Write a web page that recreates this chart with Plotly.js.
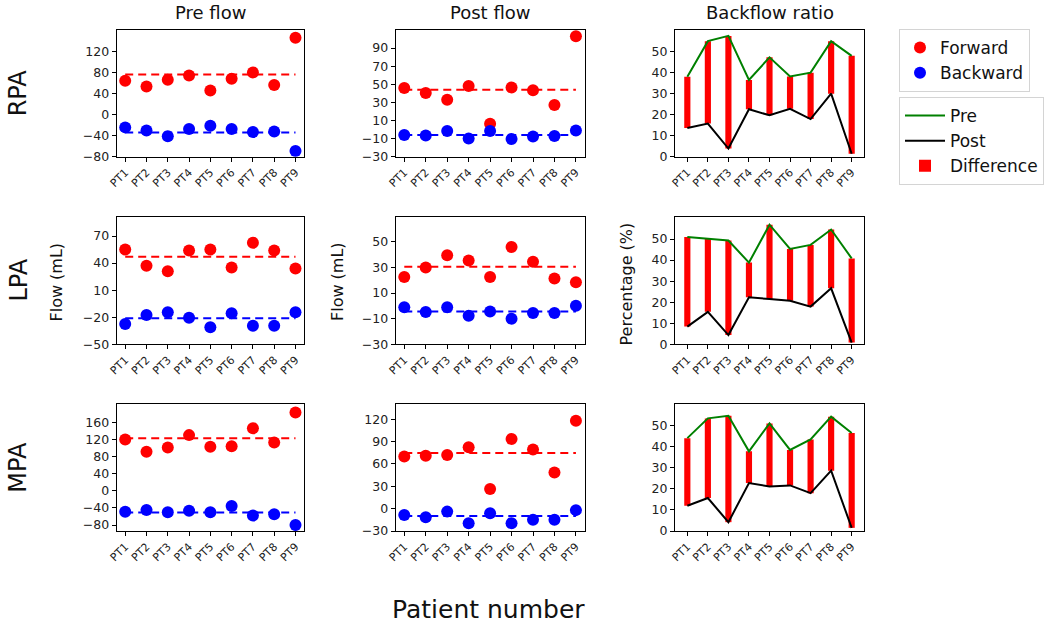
<!DOCTYPE html>
<html>
<head>
<meta charset="utf-8">
<script src="https://cdn.plot.ly/plotly-3.0.1.min.js"></script>
<style>
  html, body { margin: 0; padding: 0; background: #fff; }
  #chart { width: 1052px; height: 626px; }
</style>
</head>
<body>
<div id="chart"></div>
<script>
// --- datos ---
const patients = ['PT1', 'PT2', 'PT3', 'PT4', 'PT5', 'PT6', 'PT7', 'PT8', 'PT9'];
const vessels = ['RPA', 'LPA', 'MPA'];

// flujo pre (mL)
const rpaPreFwd = [65, 54, 67, 75, 46.5, 69, 81, 57, 147];
const rpaPreBwd = [-24, -30, -41, -27, -21, -27, -33, -32, -69];
const lpaPreFwd = [55, 37, 31, 54, 55, 35, 62.5, 54, 34];
const lpaPreBwd = [-27.5, -17.5, -14.5, -20.5, -31, -15.5, -29.5, -29.5, -14.5];
const mpaPreFwd = [120, 91, 101, 130, 103, 104, 146, 113, 183];
const mpaPreBwd = [-49, -45, -50, -46.5, -50, -35.5, -58, -55, -80];

// flujo post (mL)
const rpaPostFwd = [46, 40.5, 33, 48, 6.3, 46.5, 43.5, 27, 103];
const rpaPostBwd = [-6, -6.5, -1.7, -10, -1.7, -10.5, -7.6, -7, -1];
const lpaPostFwd = [22.5, 30, 39.5, 35.5, 22.5, 46, 34.5, 21.5, 18.5];
const lpaPostBwd = [-1, -4.8, -1, -7.7, -4.3, -10, -5.6, -5.6, 0.2];
const mpaPostFwd = [70, 71, 72, 82.5, 26.5, 93.5, 79.5, 48.5, 118];
const mpaPostBwd = [-8.5, -11.5, -4, -19.5, -6.3, -19.5, -15, -15, -2];

// niveles de las líneas punteadas (RPA, LPA, MPA)
const preFwdMean = [77, 47, 122.5];
const preBwdMean = [-34, -21, -50.5];
const postFwdMean = [44, 30.5, 74.5];
const postBwdMean = [-6, -4.3, -10];

// porcentaje de reflujo (%)
const rpaRatioPre = [38, 55, 57.5, 36.5, 47.3, 38.2, 40, 55, 48];
const rpaRatioPost = [13.7, 15.8, 3.9, 22.6, 19.7, 22.8, 17.9, 30, 1.4];
const lpaRatioPre = [51, 50.2, 49.3, 38.8, 56.8, 45.3, 47.2, 54.5, 40.8];
const lpaRatioPost = [8.4, 15.4, 4.4, 22.3, 21.5, 20.7, 17.9, 26.6, 0.8];
const mpaRatioPre = [44.2, 53.6, 54.8, 37.9, 51.2, 38.6, 43.6, 54.4, 46.6];
const mpaRatioPost = [12, 15.7, 4.2, 22.8, 21.2, 21.7, 18, 28.7, 1.5];

const preFwd = [rpaPreFwd, lpaPreFwd, mpaPreFwd];
const preBwd = [rpaPreBwd, lpaPreBwd, mpaPreBwd];
const postFwd = [rpaPostFwd, lpaPostFwd, mpaPostFwd];
const postBwd = [rpaPostBwd, lpaPostBwd, mpaPostBwd];
const ratioPre = [rpaRatioPre, lpaRatioPre, mpaRatioPre];
const ratioPost = [rpaRatioPost, lpaRatioPost, mpaRatioPost];

// --- geometría (px sobre 1052x626) ---
const W = 1052, H = 626;
const colPx = [[116.7, 304], [395.7, 584.5], [675, 864]];
const rowPx = [[30, 156.7], [216.7, 344.3], [404.3, 531]];

// rangos y ticks de Y por fila/columna
const yRanges = [
  [[-80, 162], [-30, 110], [0, 60.3]],
  [[-50, 91.4], [-30, 69.7], [0, 60.6]],
  [[-94, 202], [-30, 140], [0, 60.3]],
];
const yTickSpec = [
  [[-80, 120, 40], [-30, 90, 20], [0, 50, 10]],
  [[-50, 70, 30], [-30, 50, 20], [0, 50, 10]],
  [[-80, 160, 40], [-30, 120, 30], [0, 50, 10]],
];

const RED = '#ff0000', BLUE = '#0000ff', GREEN = '#008000';
const FONT = 'DejaVu Sans, Arial, sans-serif';

function ticks(desde, hasta, paso) {
  const out = [];
  for (let v = desde; v <= hasta + 1e-9; v += paso) out.push(v);
  return out;
}

function axisId(r, c) {
  const n = r * 3 + c + 1;
  return n === 1 ? '' : String(n);
}

const traces = [];
const layout = {
  width: W,
  height: H,
  margin: { l: 0, r: 0, t: 0, b: 0 },
  paper_bgcolor: '#fff',
  plot_bgcolor: '#fff',
  font: { family: FONT, size: 12, color: '#111' },
  showlegend: true,
  legend: {
    x: 899 / W, y: 1 - 29 / H, xanchor: 'left', yanchor: 'top',
    bgcolor: '#fff', bordercolor: '#d4d4d4', borderwidth: 1,
    font: { size: 17, color: '#111' }, itemwidth: 30, tracegroupgap: 0,
  },
  legend2: {
    x: 899 / W, y: 1 - 97 / H, xanchor: 'left', yanchor: 'top',
    bgcolor: '#fff', bordercolor: '#d4d4d4', borderwidth: 1,
    font: { size: 17, color: '#111' }, itemwidth: 40, tracegroupgap: 0,
  },
  annotations: [],
};

function flowPanel(r, c, fwd, bwd, fwdMean, bwdMean) {
  const id = axisId(r, c);
  const enLeyenda = r === 0 && c === 0;
  const xa = 'x' + id, ya = 'y' + id;
  const extremos = [patients[0], patients[patients.length - 1]];
  traces.push(
    {
      x: patients, y: fwd, xaxis: xa, yaxis: ya, type: 'scatter', mode: 'markers',
      name: 'Forward', showlegend: enLeyenda, legend: 'legend', legendrank: 1,
      marker: { color: RED, size: 12 },
    },
    {
      x: patients, y: bwd, xaxis: xa, yaxis: ya, type: 'scatter', mode: 'markers',
      name: 'Backward', showlegend: enLeyenda, legend: 'legend', legendrank: 2,
      marker: { color: BLUE, size: 12 },
    },
    {
      x: extremos, y: [fwdMean, fwdMean], xaxis: xa, yaxis: ya, type: 'scatter', mode: 'lines',
      showlegend: false, hoverinfo: 'skip',
      line: { color: RED, width: 2, dash: '8px,5px' },
    },
    {
      x: extremos, y: [bwdMean, bwdMean], xaxis: xa, yaxis: ya, type: 'scatter', mode: 'lines',
      showlegend: false, hoverinfo: 'skip',
      line: { color: BLUE, width: 2, dash: '8px,5px' },
    }
  );
}

function ratioPanel(r, pre, post) {
  const id = axisId(r, 2);
  const enLeyenda = r === 0;
  const xa = 'x' + id, ya = 'y' + id;
  traces.push(
    {
      x: patients, y: pre.map((v, i) => v - post[i]), base: post,
      xaxis: xa, yaxis: ya, type: 'bar', width: 0.3,
      name: 'Difference', showlegend: enLeyenda, legend: 'legend2', legendrank: 3,
      marker: { color: RED, line: { width: 0 } },
    },
    {
      x: patients, y: pre, xaxis: xa, yaxis: ya, type: 'scatter', mode: 'lines',
      name: 'Pre', showlegend: enLeyenda, legend: 'legend2', legendrank: 1,
      line: { color: GREEN, width: 2 },
    },
    {
      x: patients, y: post, xaxis: xa, yaxis: ya, type: 'scatter', mode: 'lines',
      name: 'Post', showlegend: enLeyenda, legend: 'legend2', legendrank: 2,
      line: { color: '#000', width: 2 },
    }
  );
}

for (let r = 0; r < 3; r++) {
  flowPanel(r, 0, preFwd[r], preBwd[r], preFwdMean[r], preBwdMean[r]);
  flowPanel(r, 1, postFwd[r], postBwd[r], postFwdMean[r], postBwdMean[r]);
  ratioPanel(r, ratioPre[r], ratioPost[r]);

  for (let c = 0; c < 3; c++) {
    const id = axisId(r, c);
    const [x0, x1] = colPx[c];
    const [yTop, yBot] = rowPx[r];
    const [t0, t1, paso] = yTickSpec[r][c];
    const margenX = c === 2 ? 0.6 : 0.4;
    layout['xaxis' + id] = {
      domain: [x0 / W, x1 / W],
      anchor: 'y' + id,
      type: 'category',
      range: [-margenX, patients.length - 1 + margenX],
      showline: true, mirror: true, linecolor: '#000', linewidth: 1,
      ticks: 'outside', ticklen: 4, tickcolor: '#000',
      tickangle: -45,
      tickfont: { size: 11, color: '#222' },
      showgrid: false, zeroline: false, fixedrange: true,
    };
    layout['yaxis' + id] = {
      domain: [1 - yBot / H, 1 - yTop / H],
      anchor: 'x' + id,
      range: yRanges[r][c],
      tickmode: 'array',
      tickvals: ticks(t0, t1, paso),
      showline: true, mirror: true, linecolor: '#000', linewidth: 1,
      ticks: 'outside', ticklen: 4, tickcolor: '#000',
      tickfont: { size: 12.5, color: '#222' },
      showgrid: false, zeroline: false, fixedrange: true,
    };
  }
}

// --- textos ---
function texto(txt, xPx, yPx, size, angle) {
  layout.annotations.push({
    text: txt, xref: 'paper', yref: 'paper',
    x: xPx / W, y: 1 - yPx / H, xanchor: 'center', yanchor: 'middle',
    showarrow: false, textangle: angle || 0,
    font: { family: FONT, size: size, color: '#111' },
  });
}

const columnTitles = ['Pre flow', 'Post flow', 'Backflow ratio'];
columnTitles.forEach((t, c) => texto(t, (colPx[c][0] + colPx[c][1]) / 2, 13, 18));
vessels.forEach((v, r) => texto(v, 18, (rowPx[r][0] + rowPx[r][1]) / 2, 24, -90));
texto('Flow (mL)', 55.5, 282, 16, -90);
texto('Flow (mL)', 337, 282, 16, -90);
texto('Percentage (%)', 625.5, 284, 16, -90);
texto('Patient number', 488, 609, 25);

Plotly.newPlot('chart', traces, layout, { displayModeBar: false, staticPlot: true });
</script>
</body>
</html>
